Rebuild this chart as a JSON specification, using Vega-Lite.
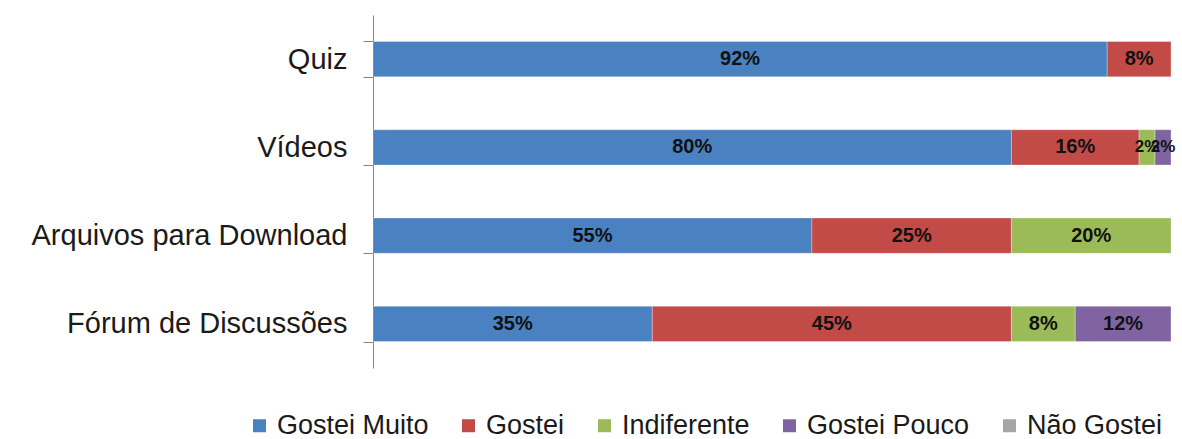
{
  "$schema": "https://vega.github.io/schema/vega-lite/v6.json",
  "autosize": "none",
  "width": 798,
  "height": 353,
  "padding": {"left": 373, "top": 15, "right": 11, "bottom": 71},
  "background": "white",
  "config": {"view": {"stroke": null}, "font": "Liberation Sans"},
  "data": {
    "values": [
      {"recurso": "Quiz", "resposta": "Gostei Muito", "nivel": 1, "v": 0.92},
      {"recurso": "Quiz", "resposta": "Gostei", "nivel": 2, "v": 0.08},
      {"recurso": "Vídeos", "resposta": "Gostei Muito", "nivel": 1, "v": 0.80},
      {"recurso": "Vídeos", "resposta": "Gostei", "nivel": 2, "v": 0.16},
      {"recurso": "Vídeos", "resposta": "Indiferente", "nivel": 3, "v": 0.02},
      {"recurso": "Vídeos", "resposta": "Gostei Pouco", "nivel": 4, "v": 0.02},
      {"recurso": "Arquivos para Download", "resposta": "Gostei Muito", "nivel": 1, "v": 0.55},
      {"recurso": "Arquivos para Download", "resposta": "Gostei", "nivel": 2, "v": 0.25},
      {"recurso": "Arquivos para Download", "resposta": "Indiferente", "nivel": 3, "v": 0.20},
      {"recurso": "Fórum de Discussões", "resposta": "Gostei Muito", "nivel": 1, "v": 0.35},
      {"recurso": "Fórum de Discussões", "resposta": "Gostei", "nivel": 2, "v": 0.45},
      {"recurso": "Fórum de Discussões", "resposta": "Indiferente", "nivel": 3, "v": 0.08},
      {"recurso": "Fórum de Discussões", "resposta": "Gostei Pouco", "nivel": 4, "v": 0.12}
    ]
  },
  "encoding": {
    "y": {
      "field": "recurso",
      "type": "nominal",
      "sort": ["Quiz", "Vídeos", "Arquivos para Download", "Fórum de Discussões"],
      "scale": {"paddingInner": 0.6, "paddingOuter": 0.3},
      "axis": {
        "title": null,
        "tickBand": "extent",
        "domainColor": "#868686",
        "tickColor": "#868686",
        "tickSize": 10,
        "labelPadding": 16,
        "labelFontSize": 29,
        "labelColor": "#1a1a1a",
        "labelLimit": 500
      }
    },
    "order": {"field": "nivel", "type": "quantitative", "sort": "ascending"}
  },
  "layer": [
    {
      "mark": {"type": "bar", "stroke": "white", "strokeOpacity": 0.3, "strokeWidth": 1},
      "encoding": {
        "x": {"field": "v", "type": "quantitative", "stack": "zero", "scale": {"domain": [0, 1]}, "axis": null},
        "color": {
          "field": "resposta",
          "type": "nominal",
          "scale": {
            "domain": ["Gostei Muito", "Gostei", "Indiferente", "Gostei Pouco", "Não Gostei"],
            "range": ["#4a81c0", "#c24a47", "#9bbb59", "#8064a2", "#a5a5a5"]
          },
          "legend": {
            "title": null,
            "orient": "none",
            "direction": "horizontal",
            "legendX": -127,
            "legendY": 397,
            "padding": 0,
            "symbolType": "square",
            "symbolSize": 169,
            "symbolStrokeWidth": 0,
            "labelFontSize": 27,
            "labelColor": "#1a1a1a",
            "labelOffset": 4,
            "columnPadding": 26,
            "labelLimit": 400
          }
        }
      }
    },
    {
      "mark": {"type": "text", "fontWeight": "bold", "baseline": "middle", "align": "center", "color": "#111111"},
      "encoding": {
        "x": {"field": "v", "type": "quantitative", "stack": "zero", "bandPosition": 0.5},
        "detail": {"field": "resposta", "type": "nominal"},
        "text": {"field": "v", "type": "quantitative", "format": ".0%"},
        "size": {"condition": {"test": "datum.v < 0.05", "value": 17}, "value": 20}
      }
    }
  ]
}
